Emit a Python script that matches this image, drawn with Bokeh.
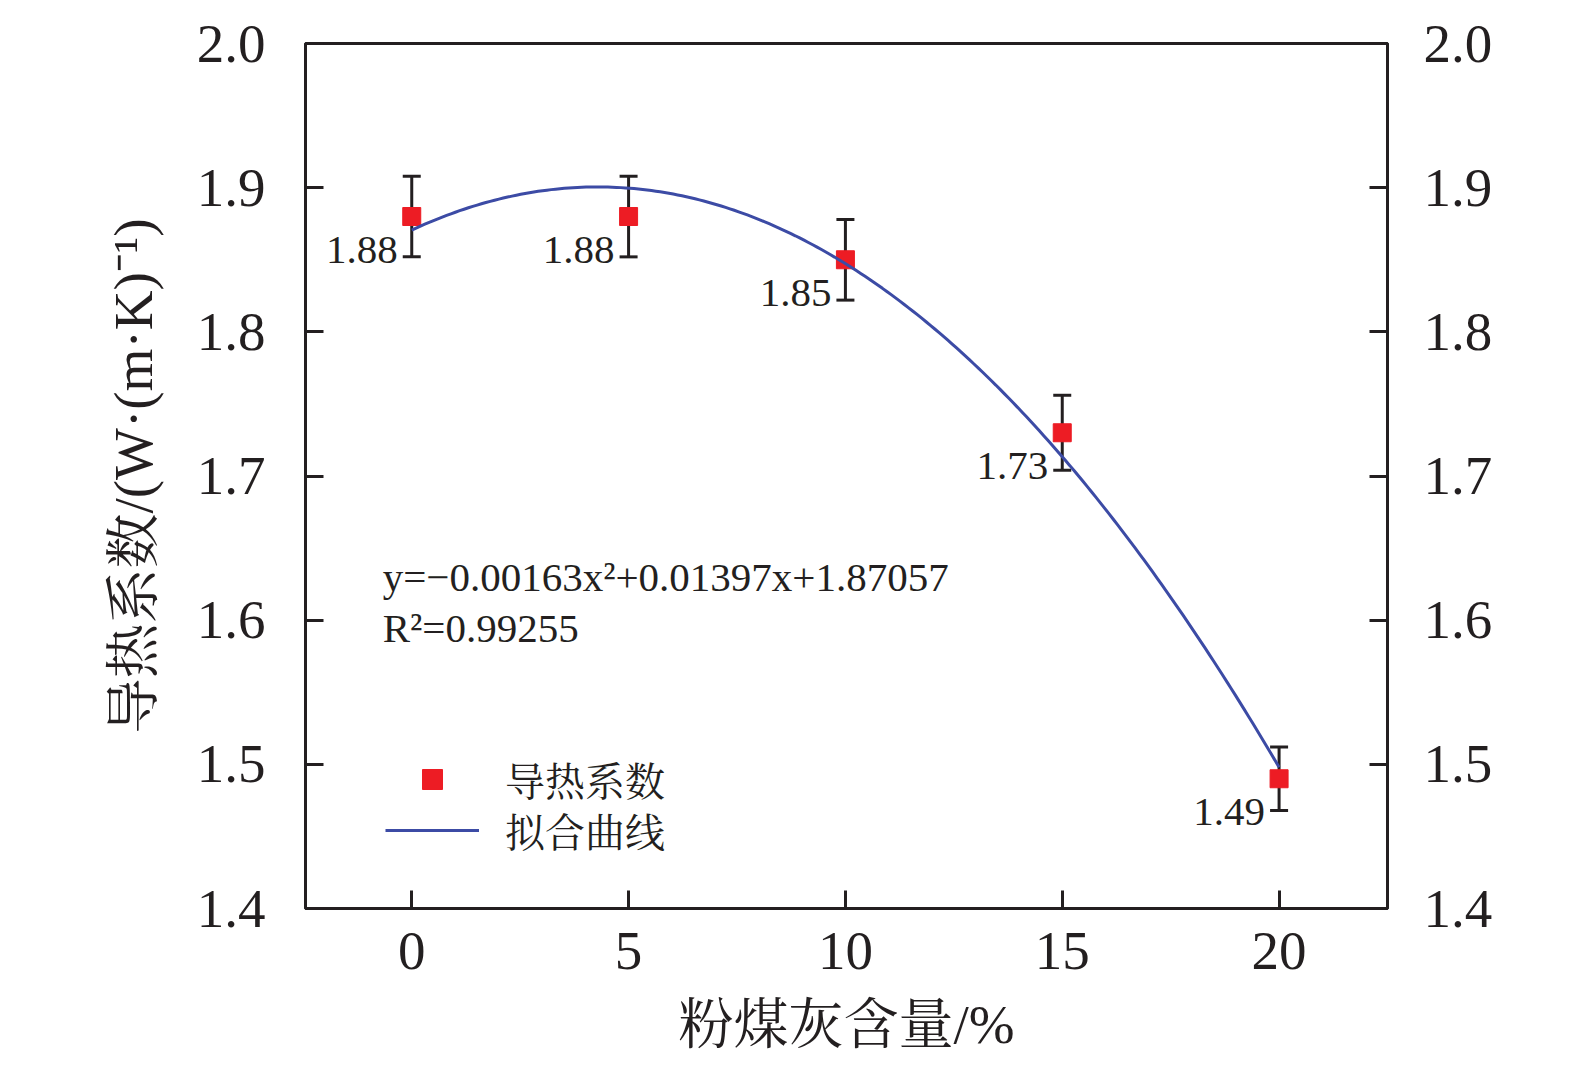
from bokeh.plotting import figure
from bokeh.models import (ColumnDataSource, Whisker, TeeHead, LinearAxis, FixedTicker,
                          Range1d, Legend, LegendItem, Label, CustomJSTickFormatter)
from bokeh.core.properties import value
from bokeh.embed import file_html
from bokeh.resources import INLINE
import numpy as np

# data
fly_ash = [0, 5, 10, 15, 20]
conductivity = [1.88, 1.88, 1.85, 1.73, 1.49]
err = [0.028, 0.028, 0.028, 0.026, 0.022]
fit_coef = [-0.00163, 0.01397, 1.87057]  # a, b, c from the printed fit
r2 = 0.99255
x_ticks = [0, 5, 10, 15, 20]
y_ticks = [1.4, 1.5, 1.6, 1.7, 1.8, 1.9, 2.0]

SERIF = "Liberation Serif, Noto Serif CJK SC, Noto Sans CJK SC"
INK = "#231F20"
RED = "#ED1C24"
BLUE = "#3C4BA5"

src = ColumnDataSource(dict(
    x=fly_ash, y=conductivity,
    upper=[v + e for v, e in zip(conductivity, err)],
    lower=[v - e for v, e in zip(conductivity, err)],
    lab=["%.2f" % v for v in conductivity],
))

xf = np.linspace(fly_ash[0], fly_ash[-1], 200)
yf = fit_coef[0] * xf ** 2 + fit_coef[1] * xf + fit_coef[2]

p = figure(width=1540, height=1057, output_backend="svg", toolbar_location=None,
           x_range=Range1d(-2.45, 22.5), y_range=Range1d(1.4, 2.0),
           min_border_left=305, min_border_right=153, min_border_top=43, min_border_bottom=140)
p.grid.visible = False
p.outline_line_color = INK
p.outline_line_width = 3
p.background_fill_color = "white"

# error bars
wh = Whisker(source=src, base="x", upper="upper", lower="lower",
             line_color=INK, line_width=3,
             upper_head=TeeHead(size=18, line_color=INK, line_width=3),
             lower_head=TeeHead(size=18, line_color=INK, line_width=3))
p.add_layout(wh)

sq = p.scatter("x", "y", source=src, marker="square", size=18, fill_color=RED, line_color=RED)
ln = p.line(xf, yf, line_color=BLUE, line_width=3)

p.text("x", "y", text="lab", source=src, x_offset=-14, y_offset=33,
       text_align="right", text_baseline="middle", text_font=value(SERIF),
       text_font_size="41px", text_color=INK)

# equation
p.add_layout(Label(x=-0.67, y=1.6296, text="y=−0.00163x²+0.01397x+1.87057",
                   text_font=SERIF, text_font_size="41px", text_color=INK,
                   text_baseline="middle", text_align="left"))
p.add_layout(Label(x=-0.67, y=1.5949, text="R²=%.5f" % r2,
                   text_font=SERIF, text_font_size="41px", text_color=INK,
                   text_baseline="middle", text_align="left"))

# axes
def style_axis(ax, ticks):
    ax.ticker = FixedTicker(ticks=ticks)
    ax.axis_line_color = INK
    ax.axis_line_width = 3
    ax.major_tick_line_color = INK
    ax.major_tick_line_width = 3
    ax.major_tick_in = 18
    ax.major_tick_out = 0
    ax.minor_tick_line_color = None
    ax.major_label_text_font = SERIF
    ax.major_label_text_font_size = "55px"
    ax.major_label_text_color = INK

style_axis(p.xaxis[0], x_ticks)
style_axis(p.yaxis[0], y_ticks)
p.yaxis[0].formatter = CustomJSTickFormatter(code="return tick.toFixed(1);")
p.xaxis[0].major_label_standoff = 24
p.yaxis[0].major_label_standoff = 40
p.xaxis[0].axis_label = "粉煤灰含量/%"
p.yaxis[0].axis_label = "导热系数/(W·(m·K)⁻¹)"
for ax in (p.xaxis[0], p.yaxis[0]):
    ax.axis_label_text_font = SERIF
    ax.axis_label_text_font_size = "55px"
    ax.axis_label_text_font_style = "normal"
    ax.axis_label_text_color = INK
p.xaxis[0].axis_label_standoff = 22
p.yaxis[0].axis_label_standoff = 30

right = LinearAxis()
style_axis(right, y_ticks)
right.formatter = CustomJSTickFormatter(code="return tick.toFixed(1);")
right.major_label_standoff = 36
p.add_layout(right, "right")

leg_kw = dict(orientation="vertical", glyph_width=94, spacing=0, label_standoff=26,
              padding=0, margin=0, border_line_color=None, background_fill_alpha=0,
              label_text_font=SERIF, label_text_font_size="40px", label_text_color=INK)
p.add_layout(Legend(items=[LegendItem(label="导热系数", renderers=[sq])],
                    location=(80, 101), glyph_height=50, label_height=50, **leg_kw))
p.add_layout(Legend(items=[LegendItem(label="拟合曲线", renderers=[ln])],
                    location=(80, 50), glyph_height=30, label_height=30, **leg_kw))

open("out.html", "w").write(file_html(p, INLINE))
